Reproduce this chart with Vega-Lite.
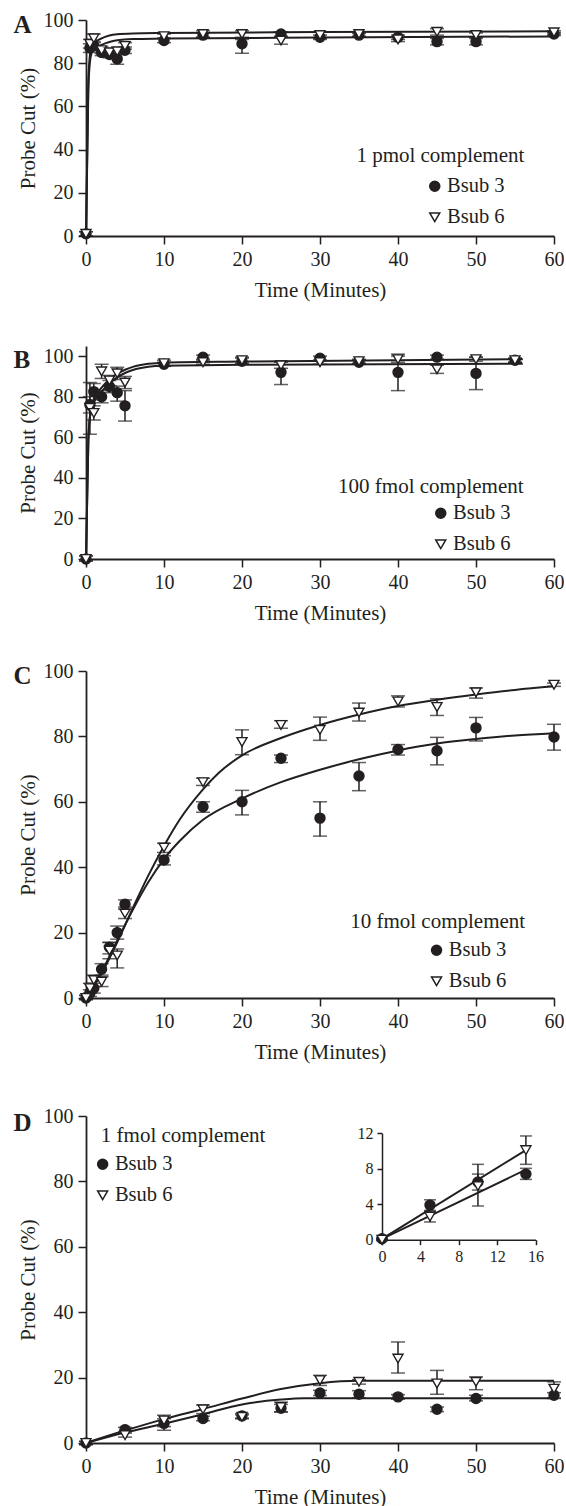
{
  "$schema": "https://vega.github.io/schema/vega-lite/v6.json",
  "padding": {"left": 13, "top": 10, "right": 0, "bottom": 0},
  "background": "white",
  "spacing": 38,
  "config": {
    "font": "Liberation Serif",
    "view": {"stroke": null},
    "axis": {"grid": false, "domainColor": "#231f20", "domainWidth": 1.8, "tickColor": "#231f20", "tickWidth": 1.5, "tickSize": 8, "labelFont": "Liberation Serif", "labelFontSize": 20, "labelColor": "#231f20", "labelFlush": false, "labelOverlap": false, "titleFont": "Liberation Serif", "titleFontSize": 21, "titleFontWeight": "normal", "titleColor": "#231f20"},
    "axisX": {"titlePadding": 10, "labelPadding": 5},
    "axisY": {"titlePadding": 5, "labelPadding": 5},
    "legend": {"labelFont": "Liberation Serif", "labelFontSize": 20.5, "labelColor": "#231f20", "symbolSize": 100, "labelOffset": 2, "rowPadding": 10, "padding": 0}
  },
  "datasets": {
    "A_pts": [
      {"s": "Bsub 3", "t": 0, "v": 1, "lo": 0, "hi": 2},
      {"s": "Bsub 3", "t": 0.5, "v": 87, "lo": 85, "hi": 89},
      {"s": "Bsub 3", "t": 1, "v": 88, "lo": 86, "hi": 90},
      {"s": "Bsub 3", "t": 2, "v": 85, "lo": 83.5, "hi": 86.5},
      {"s": "Bsub 3", "t": 3, "v": 84, "lo": 82.5, "hi": 85.5},
      {"s": "Bsub 3", "t": 4, "v": 82, "lo": 79.5, "hi": 84.5},
      {"s": "Bsub 3", "t": 5, "v": 86, "lo": 84.5, "hi": 87.5},
      {"s": "Bsub 3", "t": 10, "v": 90.5, "lo": 89.5, "hi": 91.5},
      {"s": "Bsub 3", "t": 15, "v": 93, "lo": 92, "hi": 94},
      {"s": "Bsub 3", "t": 20, "v": 89, "lo": 84.6, "hi": 91},
      {"s": "Bsub 3", "t": 25, "v": 93.5, "lo": 92.5, "hi": 94.5},
      {"s": "Bsub 3", "t": 30, "v": 92, "lo": 91, "hi": 93},
      {"s": "Bsub 3", "t": 35, "v": 93, "lo": 92.2, "hi": 93.8},
      {"s": "Bsub 3", "t": 40, "v": 92, "lo": 91, "hi": 93},
      {"s": "Bsub 3", "t": 45, "v": 90, "lo": 88.5, "hi": 91.5},
      {"s": "Bsub 3", "t": 50, "v": 90, "lo": 88.5, "hi": 91.5},
      {"s": "Bsub 3", "t": 60, "v": 93.5, "lo": 92.8, "hi": 94.2},
      {"s": "Bsub 6", "t": 0, "v": 1, "lo": 0, "hi": 2},
      {"s": "Bsub 6", "t": 0.5, "v": 89, "lo": 87, "hi": 91},
      {"s": "Bsub 6", "t": 1, "v": 91.5, "lo": 89.5, "hi": 93.5},
      {"s": "Bsub 6", "t": 2, "v": 86, "lo": 84.5, "hi": 87.5},
      {"s": "Bsub 6", "t": 3, "v": 85, "lo": 83.5, "hi": 86.5},
      {"s": "Bsub 6", "t": 4, "v": 85.5, "lo": 84, "hi": 87},
      {"s": "Bsub 6", "t": 5, "v": 88, "lo": 86.5, "hi": 89.5},
      {"s": "Bsub 6", "t": 10, "v": 92.5, "lo": 91.5, "hi": 93.5},
      {"s": "Bsub 6", "t": 15, "v": 93.5, "lo": 92, "hi": 95},
      {"s": "Bsub 6", "t": 20, "v": 93.5, "lo": 92, "hi": 95},
      {"s": "Bsub 6", "t": 25, "v": 90.5, "lo": 88.8, "hi": 92},
      {"s": "Bsub 6", "t": 30, "v": 93, "lo": 91.5, "hi": 94.5},
      {"s": "Bsub 6", "t": 35, "v": 93.5, "lo": 92.5, "hi": 94.5},
      {"s": "Bsub 6", "t": 40, "v": 91, "lo": 90, "hi": 92},
      {"s": "Bsub 6", "t": 45, "v": 94.5, "lo": 93, "hi": 96},
      {"s": "Bsub 6", "t": 50, "v": 93, "lo": 92, "hi": 94},
      {"s": "Bsub 6", "t": 60, "v": 94.3, "lo": 93.5, "hi": 95}
    ],
    "A_fit": [
      {"s": "Bsub 3", "t": 0, "v": 0}, {"s": "Bsub 3", "t": 0.3, "v": 68}, {"s": "Bsub 3", "t": 0.6, "v": 83}, {"s": "Bsub 3", "t": 1, "v": 86.5}, {"s": "Bsub 3", "t": 2, "v": 88.5}, {"s": "Bsub 3", "t": 3, "v": 89.8}, {"s": "Bsub 3", "t": 4, "v": 90.6}, {"s": "Bsub 3", "t": 6, "v": 91.2}, {"s": "Bsub 3", "t": 10, "v": 91.4}, {"s": "Bsub 3", "t": 30, "v": 91.9}, {"s": "Bsub 3", "t": 60, "v": 92.4},
      {"s": "Bsub 6", "t": 0, "v": 0}, {"s": "Bsub 6", "t": 0.3, "v": 72}, {"s": "Bsub 6", "t": 0.6, "v": 86}, {"s": "Bsub 6", "t": 1, "v": 89}, {"s": "Bsub 6", "t": 2, "v": 91.5}, {"s": "Bsub 6", "t": 3, "v": 92.8}, {"s": "Bsub 6", "t": 4, "v": 93.4}, {"s": "Bsub 6", "t": 6, "v": 93.8}, {"s": "Bsub 6", "t": 10, "v": 94}, {"s": "Bsub 6", "t": 30, "v": 94.4}, {"s": "Bsub 6", "t": 60, "v": 94.8}
    ],
    "B_pts": [
      {"s": "Bsub 3", "t": 0, "v": 0, "lo": -1, "hi": 1.5},
      {"s": "Bsub 3", "t": 0.5, "v": 76, "lo": 72, "hi": 80},
      {"s": "Bsub 3", "t": 1, "v": 82.5, "lo": 78.5, "hi": 86.5},
      {"s": "Bsub 3", "t": 2, "v": 80, "lo": 77, "hi": 83},
      {"s": "Bsub 3", "t": 3, "v": 85, "lo": 82, "hi": 88},
      {"s": "Bsub 3", "t": 4, "v": 82, "lo": 77.8, "hi": 85.2},
      {"s": "Bsub 3", "t": 5, "v": 75.5, "lo": 68, "hi": 83},
      {"s": "Bsub 3", "t": 10, "v": 96, "lo": 95, "hi": 97},
      {"s": "Bsub 3", "t": 15, "v": 99.5, "lo": 98.5, "hi": 100.5},
      {"s": "Bsub 3", "t": 20, "v": 97.5, "lo": 96, "hi": 99},
      {"s": "Bsub 3", "t": 25, "v": 92, "lo": 86, "hi": 97.5},
      {"s": "Bsub 3", "t": 30, "v": 99, "lo": 98, "hi": 100},
      {"s": "Bsub 3", "t": 35, "v": 97, "lo": 96, "hi": 98},
      {"s": "Bsub 3", "t": 40, "v": 92, "lo": 83, "hi": 101},
      {"s": "Bsub 3", "t": 45, "v": 99.5, "lo": 98.5, "hi": 100.5},
      {"s": "Bsub 3", "t": 50, "v": 91.5, "lo": 83.5, "hi": 99.5},
      {"s": "Bsub 3", "t": 55, "v": 98, "lo": 97, "hi": 99},
      {"s": "Bsub 6", "t": 0, "v": 0, "lo": -1, "hi": 1.5},
      {"s": "Bsub 6", "t": 0.5, "v": 74.5, "lo": 61.5, "hi": 87},
      {"s": "Bsub 6", "t": 1, "v": 72, "lo": 68.5, "hi": 75.5},
      {"s": "Bsub 6", "t": 2, "v": 92.5, "lo": 89, "hi": 96},
      {"s": "Bsub 6", "t": 3, "v": 88, "lo": 85.5, "hi": 90.5},
      {"s": "Bsub 6", "t": 4, "v": 91.5, "lo": 88.5, "hi": 94.5},
      {"s": "Bsub 6", "t": 5, "v": 87, "lo": 84, "hi": 90},
      {"s": "Bsub 6", "t": 10, "v": 96.5, "lo": 95, "hi": 98},
      {"s": "Bsub 6", "t": 15, "v": 97, "lo": 96, "hi": 98},
      {"s": "Bsub 6", "t": 20, "v": 98, "lo": 96.5, "hi": 99.5},
      {"s": "Bsub 6", "t": 25, "v": 95.5, "lo": 94, "hi": 97},
      {"s": "Bsub 6", "t": 30, "v": 97, "lo": 96, "hi": 98},
      {"s": "Bsub 6", "t": 35, "v": 97.5, "lo": 96.5, "hi": 98.5},
      {"s": "Bsub 6", "t": 40, "v": 98.5, "lo": 97, "hi": 100},
      {"s": "Bsub 6", "t": 45, "v": 93.5, "lo": 91.5, "hi": 95.5},
      {"s": "Bsub 6", "t": 50, "v": 98.5, "lo": 97.5, "hi": 99.5},
      {"s": "Bsub 6", "t": 55, "v": 98, "lo": 97, "hi": 99}
    ],
    "B_fit": [
      {"s": "Bsub 3", "t": 0, "v": 0}, {"s": "Bsub 3", "t": 0.3, "v": 58}, {"s": "Bsub 3", "t": 0.5, "v": 70}, {"s": "Bsub 3", "t": 1, "v": 77}, {"s": "Bsub 3", "t": 2, "v": 82.5}, {"s": "Bsub 3", "t": 3, "v": 86.5}, {"s": "Bsub 3", "t": 4, "v": 89.5}, {"s": "Bsub 3", "t": 5, "v": 91.7}, {"s": "Bsub 3", "t": 6, "v": 93.2}, {"s": "Bsub 3", "t": 8, "v": 94.8}, {"s": "Bsub 3", "t": 10, "v": 95.3}, {"s": "Bsub 3", "t": 20, "v": 95.7}, {"s": "Bsub 3", "t": 56, "v": 96.3},
      {"s": "Bsub 6", "t": 0, "v": 0}, {"s": "Bsub 6", "t": 0.3, "v": 58}, {"s": "Bsub 6", "t": 0.5, "v": 70}, {"s": "Bsub 6", "t": 1, "v": 78}, {"s": "Bsub 6", "t": 2, "v": 84.5}, {"s": "Bsub 6", "t": 3, "v": 88.5}, {"s": "Bsub 6", "t": 4, "v": 91.3}, {"s": "Bsub 6", "t": 5, "v": 93.3}, {"s": "Bsub 6", "t": 6, "v": 94.7}, {"s": "Bsub 6", "t": 8, "v": 96.2}, {"s": "Bsub 6", "t": 10, "v": 96.8}, {"s": "Bsub 6", "t": 20, "v": 97.3}, {"s": "Bsub 6", "t": 56, "v": 98.5}
    ],
    "C_pts": [
      {"s": "Bsub 3", "t": 0, "v": 0, "lo": -0.5, "hi": 0.8},
      {"s": "Bsub 3", "t": 0.5, "v": 1.5, "lo": 0.5, "hi": 2.5},
      {"s": "Bsub 3", "t": 1, "v": 3, "lo": 1.5, "hi": 4.5},
      {"s": "Bsub 3", "t": 2, "v": 8.8, "lo": 7, "hi": 10.5},
      {"s": "Bsub 3", "t": 3, "v": 15.5, "lo": 13.5, "hi": 17},
      {"s": "Bsub 3", "t": 4, "v": 20, "lo": 18, "hi": 22},
      {"s": "Bsub 3", "t": 5, "v": 28.7, "lo": 27.2, "hi": 30},
      {"s": "Bsub 3", "t": 10, "v": 42.2, "lo": 40.7, "hi": 43.5},
      {"s": "Bsub 3", "t": 15, "v": 58.5, "lo": 56.8, "hi": 60},
      {"s": "Bsub 3", "t": 20, "v": 60, "lo": 56, "hi": 63.5},
      {"s": "Bsub 3", "t": 25, "v": 73.3, "lo": 72, "hi": 74.3},
      {"s": "Bsub 3", "t": 30, "v": 55, "lo": 49.5, "hi": 60},
      {"s": "Bsub 3", "t": 35, "v": 67.9, "lo": 63.4, "hi": 72},
      {"s": "Bsub 3", "t": 40, "v": 76, "lo": 74.3, "hi": 77.5},
      {"s": "Bsub 3", "t": 45, "v": 75.6, "lo": 71.3, "hi": 79.7},
      {"s": "Bsub 3", "t": 50, "v": 82.6, "lo": 78.6, "hi": 85.8},
      {"s": "Bsub 3", "t": 60, "v": 79.8, "lo": 75.8, "hi": 83.7},
      {"s": "Bsub 6", "t": 0, "v": 0, "lo": -0.5, "hi": 0.8},
      {"s": "Bsub 6", "t": 0.5, "v": 3, "lo": 1.5, "hi": 4.5},
      {"s": "Bsub 6", "t": 1, "v": 5.5, "lo": 3.5, "hi": 7},
      {"s": "Bsub 6", "t": 2, "v": 5, "lo": 3.5, "hi": 6.5},
      {"s": "Bsub 6", "t": 3, "v": 14.5, "lo": 12, "hi": 17},
      {"s": "Bsub 6", "t": 4, "v": 13, "lo": 9.2, "hi": 15},
      {"s": "Bsub 6", "t": 5, "v": 25.8, "lo": 24.3, "hi": 27.8},
      {"s": "Bsub 6", "t": 10, "v": 46, "lo": 44.5, "hi": 47.3},
      {"s": "Bsub 6", "t": 15, "v": 66, "lo": 65, "hi": 67.2},
      {"s": "Bsub 6", "t": 20, "v": 78.3, "lo": 74.4, "hi": 82},
      {"s": "Bsub 6", "t": 25, "v": 83.5, "lo": 82.5, "hi": 84.8},
      {"s": "Bsub 6", "t": 30, "v": 82, "lo": 78.8, "hi": 85.9},
      {"s": "Bsub 6", "t": 35, "v": 87.3, "lo": 84.7, "hi": 90.2},
      {"s": "Bsub 6", "t": 40, "v": 90.7, "lo": 89, "hi": 92.4},
      {"s": "Bsub 6", "t": 45, "v": 89, "lo": 86.4, "hi": 91.5},
      {"s": "Bsub 6", "t": 50, "v": 93.5, "lo": 91.7, "hi": 94.8},
      {"s": "Bsub 6", "t": 60, "v": 95.8, "lo": 95.3, "hi": 96.3}
    ],
    "C_fit": [
      {"s": "Bsub 3", "t": 0, "v": 0}, {"s": "Bsub 3", "t": 2, "v": 8}, {"s": "Bsub 3", "t": 4, "v": 17.5}, {"s": "Bsub 3", "t": 6, "v": 27}, {"s": "Bsub 3", "t": 8, "v": 35.5}, {"s": "Bsub 3", "t": 10, "v": 42.5}, {"s": "Bsub 3", "t": 12, "v": 48}, {"s": "Bsub 3", "t": 15, "v": 54.5}, {"s": "Bsub 3", "t": 20, "v": 61}, {"s": "Bsub 3", "t": 25, "v": 66}, {"s": "Bsub 3", "t": 30, "v": 69.8}, {"s": "Bsub 3", "t": 35, "v": 73}, {"s": "Bsub 3", "t": 40, "v": 75.7}, {"s": "Bsub 3", "t": 45, "v": 77.8}, {"s": "Bsub 3", "t": 50, "v": 79.2}, {"s": "Bsub 3", "t": 55, "v": 80.3}, {"s": "Bsub 3", "t": 60, "v": 81},
      {"s": "Bsub 6", "t": 0, "v": 0}, {"s": "Bsub 6", "t": 2, "v": 7.5}, {"s": "Bsub 6", "t": 4, "v": 17}, {"s": "Bsub 6", "t": 6, "v": 27.5}, {"s": "Bsub 6", "t": 8, "v": 37.5}, {"s": "Bsub 6", "t": 10, "v": 46.5}, {"s": "Bsub 6", "t": 12, "v": 54.5}, {"s": "Bsub 6", "t": 15, "v": 63.8}, {"s": "Bsub 6", "t": 17, "v": 68.8}, {"s": "Bsub 6", "t": 20, "v": 74.2}, {"s": "Bsub 6", "t": 25, "v": 79.5}, {"s": "Bsub 6", "t": 30, "v": 83.5}, {"s": "Bsub 6", "t": 35, "v": 86.7}, {"s": "Bsub 6", "t": 40, "v": 89.3}, {"s": "Bsub 6", "t": 45, "v": 91.2}, {"s": "Bsub 6", "t": 50, "v": 92.8}, {"s": "Bsub 6", "t": 55, "v": 94.2}, {"s": "Bsub 6", "t": 60, "v": 95.3}
    ],
    "D_pts": [
      {"s": "Bsub 3", "t": 0, "v": 0, "lo": -0.5, "hi": 0.5},
      {"s": "Bsub 3", "t": 5, "v": 4.1, "lo": 3.4, "hi": 4.8},
      {"s": "Bsub 3", "t": 10, "v": 6, "lo": 5, "hi": 7.4},
      {"s": "Bsub 3", "t": 15, "v": 7.5, "lo": 6.8, "hi": 8.2},
      {"s": "Bsub 3", "t": 20, "v": 8.3, "lo": 7.6, "hi": 9},
      {"s": "Bsub 3", "t": 25, "v": 10.6, "lo": 9.5, "hi": 11.8},
      {"s": "Bsub 3", "t": 30, "v": 15.3, "lo": 14.5, "hi": 16.1},
      {"s": "Bsub 3", "t": 35, "v": 14.9, "lo": 13.8, "hi": 16},
      {"s": "Bsub 3", "t": 40, "v": 14.1, "lo": 13.4, "hi": 14.8},
      {"s": "Bsub 3", "t": 45, "v": 10.3, "lo": 9.6, "hi": 11},
      {"s": "Bsub 3", "t": 50, "v": 13.6, "lo": 12.9, "hi": 14.6},
      {"s": "Bsub 3", "t": 60, "v": 14.6, "lo": 13.8, "hi": 15.4},
      {"s": "Bsub 6", "t": 0, "v": 0, "lo": -0.5, "hi": 0.5},
      {"s": "Bsub 6", "t": 5, "v": 2.4, "lo": 1.8, "hi": 3},
      {"s": "Bsub 6", "t": 10, "v": 6.9, "lo": 3.9, "hi": 8.5},
      {"s": "Bsub 6", "t": 15, "v": 10.3, "lo": 9, "hi": 11.6},
      {"s": "Bsub 6", "t": 20, "v": 8, "lo": 7.4, "hi": 8.6},
      {"s": "Bsub 6", "t": 25, "v": 11, "lo": 9.5, "hi": 12.5},
      {"s": "Bsub 6", "t": 30, "v": 19.2, "lo": 17.6, "hi": 20.7},
      {"s": "Bsub 6", "t": 35, "v": 18.7, "lo": 18, "hi": 19.4},
      {"s": "Bsub 6", "t": 40, "v": 25.8, "lo": 21.4, "hi": 30.9},
      {"s": "Bsub 6", "t": 45, "v": 18.2, "lo": 14.9, "hi": 22.2},
      {"s": "Bsub 6", "t": 50, "v": 18.7, "lo": 16.3, "hi": 20.2},
      {"s": "Bsub 6", "t": 60, "v": 16.6, "lo": 13.6, "hi": 18.7}
    ],
    "D_fit": [
      {"s": "Bsub 3", "t": 0, "v": 0}, {"s": "Bsub 3", "t": 5, "v": 3.2}, {"s": "Bsub 3", "t": 10, "v": 5.9}, {"s": "Bsub 3", "t": 15, "v": 8.8}, {"s": "Bsub 3", "t": 20, "v": 11.8}, {"s": "Bsub 3", "t": 25, "v": 13.3}, {"s": "Bsub 3", "t": 28, "v": 13.7}, {"s": "Bsub 3", "t": 60, "v": 13.7},
      {"s": "Bsub 6", "t": 0, "v": 0}, {"s": "Bsub 6", "t": 5, "v": 3.8}, {"s": "Bsub 6", "t": 10, "v": 7.3}, {"s": "Bsub 6", "t": 15, "v": 10.4}, {"s": "Bsub 6", "t": 20, "v": 13.6}, {"s": "Bsub 6", "t": 25, "v": 16.5}, {"s": "Bsub 6", "t": 30, "v": 18.3}, {"s": "Bsub 6", "t": 35, "v": 19}, {"s": "Bsub 6", "t": 60, "v": 19}
    ],
    "I_pts": [
      {"s": "Bsub 3", "t": 0, "v": 0.1, "lo": 0, "hi": 0.2},
      {"s": "Bsub 3", "t": 5, "v": 3.9, "lo": 3.3, "hi": 4.5},
      {"s": "Bsub 3", "t": 10, "v": 6.5, "lo": 5.6, "hi": 7.4},
      {"s": "Bsub 3", "t": 15, "v": 7.4, "lo": 6.8, "hi": 8.05},
      {"s": "Bsub 6", "t": 0, "v": 0, "lo": -0.1, "hi": 0.1},
      {"s": "Bsub 6", "t": 5, "v": 2.6, "lo": 2, "hi": 3.2},
      {"s": "Bsub 6", "t": 10, "v": 6.05, "lo": 3.8, "hi": 8.5},
      {"s": "Bsub 6", "t": 15, "v": 10.1, "lo": 8.5, "hi": 11.7}
    ],
    "I_fit": [
      {"s": "Bsub 3", "t": 0, "v": 0.1}, {"s": "Bsub 3", "t": 15, "v": 7.9},
      {"s": "Bsub 6", "t": 0, "v": 0.1}, {"s": "Bsub 6", "t": 15, "v": 10.1}
    ]
  },
  "resolve": {
    "scale": {"x": "independent", "y": "independent", "shape": "independent", "fill": "independent"},
    "legend": {"shape": "independent", "fill": "independent"}
  },
  "vconcat": [
    {
      "spacing": 46,
      "resolve": {
        "scale": {"x": "independent", "y": "independent", "shape": "independent", "fill": "independent"},
        "legend": {"shape": "independent", "fill": "independent"}
      },
      "vconcat": [
        {
          "width": 468, "height": 216,
          "layer": [
            {"data": {"name": "A_pts"}, "mark": {"type": "errorbar", "ticks": {"size": 14, "thickness": 1.5, "color": "#231f20"}, "rule": {"strokeWidth": 1.5, "color": "#231f20"}},
             "encoding": {
               "x": {"field": "t", "type": "quantitative", "scale": {"domain": [0, 60], "nice": false}, "axis": {"values": [0, 10, 20, 30, 40, 50, 60], "title": "Time (Minutes)"}},
               "y": {"field": "lo", "type": "quantitative", "scale": {"domain": [0, 100], "nice": false}, "axis": {"values": [0, 20, 40, 60, 80, 100], "title": "Probe Cut (%)"}},
               "y2": {"field": "hi"}}},
            {"data": {"name": "A_fit"}, "mark": {"type": "line", "interpolate": "monotone", "color": "#231f20", "strokeWidth": 2},
             "encoding": {
               "x": {"field": "t", "type": "quantitative", "scale": {"domain": [0, 60], "nice": false}, "axis": {"values": [0, 10, 20, 30, 40, 50, 60], "title": "Time (Minutes)"}},
               "y": {"field": "v", "type": "quantitative", "scale": {"domain": [0, 100], "nice": false}, "axis": {"values": [0, 20, 40, 60, 80, 100], "title": "Probe Cut (%)"}},
               "detail": {"field": "s"}}},
            {"data": {"name": "A_pts"}, "mark": {"type": "point", "filled": true, "stroke": "#231f20", "strokeWidth": 1.4, "opacity": 1, "size": 100},
             "encoding": {
               "x": {"field": "t", "type": "quantitative", "scale": {"domain": [0, 60], "nice": false}, "axis": {"values": [0, 10, 20, 30, 40, 50, 60], "title": "Time (Minutes)"}},
               "y": {"field": "v", "type": "quantitative", "scale": {"domain": [0, 100], "nice": false}, "axis": {"values": [0, 20, 40, 60, 80, 100], "title": "Probe Cut (%)"}},
               "shape": {"field": "s", "type": "nominal", "scale": {"domain": ["Bsub 3", "Bsub 6"], "range": ["circle", "triangle-down"]}, "legend": {"title": null, "orient": "none", "legendX": 338.5, "legendY": 156, "encode": {"symbols": {"update": {"stroke": {"value": "#231f20"}, "strokeWidth": {"value": 1.4}}}}}},
               "fill": {"field": "s", "type": "nominal", "scale": {"domain": ["Bsub 3", "Bsub 6"], "range": ["#231f20", "#ffffff"]}, "legend": {"title": null, "orient": "none", "legendX": 338.5, "legendY": 156, "encode": {"symbols": {"update": {"stroke": {"value": "#231f20"}, "strokeWidth": {"value": 1.4}}}}}}}},
            {"data": {"values": [{"label": "1 pmol complement"}]}, "mark": {"type": "text", "align": "right", "baseline": "alphabetic", "fontSize": 21, "font": "Liberation Serif", "color": "#231f20"},
             "encoding": {"x": {"datum": 56.2, "type": "quantitative"}, "y": {"datum": 34.2, "type": "quantitative"}, "text": {"field": "label"}}},
            {"data": {"values": [{"label": "A"}]}, "mark": {"type": "text", "align": "left", "baseline": "middle", "fontSize": 25, "fontWeight": "bold", "font": "Liberation Serif", "color": "#231f20"},
             "encoding": {"x": {"datum": -9.3, "type": "quantitative"}, "y": {"datum": 97.5, "type": "quantitative"}, "text": {"field": "label"}}}
          ]
        },
        {
          "width": 468, "height": 213,
          "layer": [
            {"data": {"name": "B_pts"}, "mark": {"type": "errorbar", "ticks": {"size": 14, "thickness": 1.5, "color": "#231f20"}, "rule": {"strokeWidth": 1.5, "color": "#231f20"}},
             "encoding": {
               "x": {"field": "t", "type": "quantitative", "scale": {"domain": [0, 60], "nice": false}, "axis": {"values": [0, 10, 20, 30, 40, 50, 60], "title": "Time (Minutes)"}},
               "y": {"field": "lo", "type": "quantitative", "scale": {"domain": [0, 105], "nice": false}, "axis": {"values": [0, 20, 40, 60, 80, 100], "title": "Probe Cut (%)"}},
               "y2": {"field": "hi"}}},
            {"data": {"name": "B_fit"}, "mark": {"type": "line", "interpolate": "monotone", "color": "#231f20", "strokeWidth": 2},
             "encoding": {
               "x": {"field": "t", "type": "quantitative", "scale": {"domain": [0, 60], "nice": false}, "axis": {"values": [0, 10, 20, 30, 40, 50, 60], "title": "Time (Minutes)"}},
               "y": {"field": "v", "type": "quantitative", "scale": {"domain": [0, 105], "nice": false}, "axis": {"values": [0, 20, 40, 60, 80, 100], "title": "Probe Cut (%)"}},
               "detail": {"field": "s"}}},
            {"data": {"name": "B_pts"}, "mark": {"type": "point", "filled": true, "stroke": "#231f20", "strokeWidth": 1.4, "opacity": 1, "size": 100},
             "encoding": {
               "x": {"field": "t", "type": "quantitative", "scale": {"domain": [0, 60], "nice": false}, "axis": {"values": [0, 10, 20, 30, 40, 50, 60], "title": "Time (Minutes)"}},
               "y": {"field": "v", "type": "quantitative", "scale": {"domain": [0, 105], "nice": false}, "axis": {"values": [0, 20, 40, 60, 80, 100], "title": "Probe Cut (%)"}},
               "shape": {"field": "s", "type": "nominal", "scale": {"domain": ["Bsub 3", "Bsub 6"], "range": ["circle", "triangle-down"]}, "legend": {"title": null, "orient": "none", "legendX": 344.5, "legendY": 157, "encode": {"symbols": {"update": {"stroke": {"value": "#231f20"}, "strokeWidth": {"value": 1.4}}}}}},
               "fill": {"field": "s", "type": "nominal", "scale": {"domain": ["Bsub 3", "Bsub 6"], "range": ["#231f20", "#ffffff"]}, "legend": {"title": null, "orient": "none", "legendX": 344.5, "legendY": 157, "encode": {"symbols": {"update": {"stroke": {"value": "#231f20"}, "strokeWidth": {"value": 1.4}}}}}}}},
            {"data": {"values": [{"label": "100 fmol complement"}]}, "mark": {"type": "text", "align": "right", "baseline": "alphabetic", "fontSize": 21, "font": "Liberation Serif", "color": "#231f20"},
             "encoding": {"x": {"datum": 56.1, "type": "quantitative"}, "y": {"datum": 32.5, "type": "quantitative"}, "text": {"field": "label"}}},
            {"data": {"values": [{"label": "B"}]}, "mark": {"type": "text", "align": "left", "baseline": "middle", "fontSize": 25, "fontWeight": "bold", "font": "Liberation Serif", "color": "#231f20"},
             "encoding": {"x": {"datum": -9.3, "type": "quantitative"}, "y": {"datum": 98, "type": "quantitative"}, "text": {"field": "label"}}}
          ]
        }
      ]
    },
    {
      "spacing": 44,
      "resolve": {
        "scale": {"x": "independent", "y": "independent", "shape": "independent", "fill": "independent"},
        "legend": {"shape": "independent", "fill": "independent"}
      },
      "vconcat": [
        {
          "width": 468, "height": 327,
          "layer": [
            {"data": {"name": "C_pts"}, "mark": {"type": "errorbar", "ticks": {"size": 14, "thickness": 1.5, "color": "#231f20"}, "rule": {"strokeWidth": 1.5, "color": "#231f20"}},
             "encoding": {
               "x": {"field": "t", "type": "quantitative", "scale": {"domain": [0, 60], "nice": false}, "axis": {"values": [0, 10, 20, 30, 40, 50, 60], "title": "Time (Minutes)"}},
               "y": {"field": "lo", "type": "quantitative", "scale": {"domain": [0, 100], "nice": false}, "axis": {"values": [0, 20, 40, 60, 80, 100], "title": "Probe Cut (%)"}},
               "y2": {"field": "hi"}}},
            {"data": {"name": "C_fit"}, "mark": {"type": "line", "interpolate": "monotone", "color": "#231f20", "strokeWidth": 2},
             "encoding": {
               "x": {"field": "t", "type": "quantitative", "scale": {"domain": [0, 60], "nice": false}, "axis": {"values": [0, 10, 20, 30, 40, 50, 60], "title": "Time (Minutes)"}},
               "y": {"field": "v", "type": "quantitative", "scale": {"domain": [0, 100], "nice": false}, "axis": {"values": [0, 20, 40, 60, 80, 100], "title": "Probe Cut (%)"}},
               "detail": {"field": "s"}}},
            {"data": {"name": "C_pts"}, "mark": {"type": "point", "filled": true, "stroke": "#231f20", "strokeWidth": 1.4, "opacity": 1, "size": 100},
             "encoding": {
               "x": {"field": "t", "type": "quantitative", "scale": {"domain": [0, 60], "nice": false}, "axis": {"values": [0, 10, 20, 30, 40, 50, 60], "title": "Time (Minutes)"}},
               "y": {"field": "v", "type": "quantitative", "scale": {"domain": [0, 100], "nice": false}, "axis": {"values": [0, 20, 40, 60, 80, 100], "title": "Probe Cut (%)"}},
               "shape": {"field": "s", "type": "nominal", "scale": {"domain": ["Bsub 3", "Bsub 6"], "range": ["circle", "triangle-down"]}, "legend": {"title": null, "orient": "none", "legendX": 340.3, "legendY": 269, "encode": {"symbols": {"update": {"stroke": {"value": "#231f20"}, "strokeWidth": {"value": 1.4}}}}}},
               "fill": {"field": "s", "type": "nominal", "scale": {"domain": ["Bsub 3", "Bsub 6"], "range": ["#231f20", "#ffffff"]}, "legend": {"title": null, "orient": "none", "legendX": 340.3, "legendY": 269, "encode": {"symbols": {"update": {"stroke": {"value": "#231f20"}, "strokeWidth": {"value": 1.4}}}}}}}},
            {"data": {"values": [{"label": "10 fmol complement"}]}, "mark": {"type": "text", "align": "right", "baseline": "alphabetic", "fontSize": 21, "font": "Liberation Serif", "color": "#231f20"},
             "encoding": {"x": {"datum": 56.3, "type": "quantitative"}, "y": {"datum": 21.5, "type": "quantitative"}, "text": {"field": "label"}}},
            {"data": {"values": [{"label": "C"}]}, "mark": {"type": "text", "align": "left", "baseline": "middle", "fontSize": 25, "fontWeight": "bold", "font": "Liberation Serif", "color": "#231f20"},
             "encoding": {"x": {"datum": -9.3, "type": "quantitative"}, "y": {"datum": 98.6, "type": "quantitative"}, "text": {"field": "label"}}}
          ]
        },
        {
          "width": 468, "height": 327,
          "resolve": {"scale": {"x": "independent", "y": "independent"}, "axis": {"x": "independent", "y": "independent"}},
          "layer": [
            {
              "layer": [
                {"data": {"name": "D_pts"}, "mark": {"type": "errorbar", "ticks": {"size": 14, "thickness": 1.5, "color": "#231f20"}, "rule": {"strokeWidth": 1.5, "color": "#231f20"}},
                 "encoding": {
                   "x": {"field": "t", "type": "quantitative", "scale": {"domain": [0, 60], "nice": false}, "axis": {"values": [0, 10, 20, 30, 40, 50, 60], "title": "Time (Minutes)"}},
                   "y": {"field": "lo", "type": "quantitative", "scale": {"domain": [0, 100], "nice": false}, "axis": {"values": [0, 20, 40, 60, 80, 100], "title": "Probe Cut (%)"}},
                   "y2": {"field": "hi"}}},
                {"data": {"name": "D_fit"}, "mark": {"type": "line", "interpolate": "monotone", "color": "#231f20", "strokeWidth": 2},
                 "encoding": {
                   "x": {"field": "t", "type": "quantitative", "scale": {"domain": [0, 60], "nice": false}, "axis": {"values": [0, 10, 20, 30, 40, 50, 60], "title": "Time (Minutes)"}},
                   "y": {"field": "v", "type": "quantitative", "scale": {"domain": [0, 100], "nice": false}, "axis": {"values": [0, 20, 40, 60, 80, 100], "title": "Probe Cut (%)"}},
                   "detail": {"field": "s"}}},
                {"data": {"name": "D_pts"}, "mark": {"type": "point", "filled": true, "stroke": "#231f20", "strokeWidth": 1.4, "opacity": 1, "size": 100},
                 "encoding": {
                   "x": {"field": "t", "type": "quantitative", "scale": {"domain": [0, 60], "nice": false}, "axis": {"values": [0, 10, 20, 30, 40, 50, 60], "title": "Time (Minutes)"}},
                   "y": {"field": "v", "type": "quantitative", "scale": {"domain": [0, 100], "nice": false}, "axis": {"values": [0, 20, 40, 60, 80, 100], "title": "Probe Cut (%)"}},
                   "shape": {"field": "s", "type": "nominal", "scale": {"domain": ["Bsub 3", "Bsub 6"], "range": ["circle", "triangle-down"]}, "legend": {"title": null, "orient": "none", "legendX": 6.4, "legendY": 38, "encode": {"symbols": {"update": {"stroke": {"value": "#231f20"}, "strokeWidth": {"value": 1.4}}}}}},
                   "fill": {"field": "s", "type": "nominal", "scale": {"domain": ["Bsub 3", "Bsub 6"], "range": ["#231f20", "#ffffff"]}, "legend": {"title": null, "orient": "none", "legendX": 6.4, "legendY": 38, "encode": {"symbols": {"update": {"stroke": {"value": "#231f20"}, "strokeWidth": {"value": 1.4}}}}}}}},
                {"data": {"values": [{"label": "1 fmol complement"}]}, "mark": {"type": "text", "align": "left", "baseline": "alphabetic", "fontSize": 21, "font": "Liberation Serif", "color": "#231f20"},
                 "encoding": {"x": {"datum": 1.9, "type": "quantitative"}, "y": {"datum": 92, "type": "quantitative"}, "text": {"field": "label"}}},
                {"data": {"values": [{"label": "D"}]}, "mark": {"type": "text", "align": "left", "baseline": "middle", "fontSize": 25, "fontWeight": "bold", "font": "Liberation Serif", "color": "#231f20"},
                 "encoding": {"x": {"datum": -9.3, "type": "quantitative"}, "y": {"datum": 98, "type": "quantitative"}, "text": {"field": "label"}}}
              ]
            },
            {
              "layer": [
                {"data": {"name": "I_pts"}, "mark": {"type": "errorbar", "ticks": {"size": 12, "thickness": 1.5, "color": "#231f20"}, "rule": {"strokeWidth": 1.5, "color": "#231f20"}},
                 "encoding": {
                   "x": {"field": "t", "type": "quantitative", "scale": {"domain": [0, 16], "range": [296, 449.5], "nice": false, "zero": false}, "axis": {"orient": "bottom", "offset": -203.3, "values": [0, 4, 8, 12, 16], "title": null, "labelFontSize": 16, "tickSize": 5, "labelPadding": 4, "domainWidth": 1.5}},
                   "y": {"field": "lo", "type": "quantitative", "scale": {"domain": [0, 12], "range": [123.7, 17.3], "nice": false, "zero": false}, "axis": {"orient": "left", "offset": -296, "values": [0, 4, 8, 12], "title": null, "labelFontSize": 16, "tickSize": 5, "labelPadding": 4, "domainWidth": 1.5}},
                   "y2": {"field": "hi"}}},
                {"data": {"name": "I_fit"}, "mark": {"type": "line", "color": "#231f20", "strokeWidth": 2},
                 "encoding": {
                   "x": {"field": "t", "type": "quantitative", "scale": {"domain": [0, 16], "range": [296, 449.5], "nice": false, "zero": false}, "axis": {"orient": "bottom", "offset": -203.3, "values": [0, 4, 8, 12, 16], "title": null, "labelFontSize": 16, "tickSize": 5, "labelPadding": 4, "domainWidth": 1.5}},
                   "y": {"field": "v", "type": "quantitative", "scale": {"domain": [0, 12], "range": [123.7, 17.3], "nice": false, "zero": false}, "axis": {"orient": "left", "offset": -296, "values": [0, 4, 8, 12], "title": null, "labelFontSize": 16, "tickSize": 5, "labelPadding": 4, "domainWidth": 1.5}},
                   "detail": {"field": "s"}}},
                {"data": {"name": "I_pts"}, "mark": {"type": "point", "filled": true, "stroke": "#231f20", "strokeWidth": 1.4, "opacity": 1, "size": 100},
                 "encoding": {
                   "x": {"field": "t", "type": "quantitative", "scale": {"domain": [0, 16], "range": [296, 449.5], "nice": false, "zero": false}, "axis": {"orient": "bottom", "offset": -203.3, "values": [0, 4, 8, 12, 16], "title": null, "labelFontSize": 16, "tickSize": 5, "labelPadding": 4, "domainWidth": 1.5}},
                   "y": {"field": "v", "type": "quantitative", "scale": {"domain": [0, 12], "range": [123.7, 17.3], "nice": false, "zero": false}, "axis": {"orient": "left", "offset": -296, "values": [0, 4, 8, 12], "title": null, "labelFontSize": 16, "tickSize": 5, "labelPadding": 4, "domainWidth": 1.5}},
                   "shape": {"field": "s", "type": "nominal", "scale": {"domain": ["Bsub 3", "Bsub 6"], "range": ["circle", "triangle-down"]}, "legend": {"title": null, "orient": "none", "legendX": 6.4, "legendY": 38, "encode": {"symbols": {"update": {"stroke": {"value": "#231f20"}, "strokeWidth": {"value": 1.4}}}}}},
                   "fill": {"field": "s", "type": "nominal", "scale": {"domain": ["Bsub 3", "Bsub 6"], "range": ["#231f20", "#ffffff"]}, "legend": {"title": null, "orient": "none", "legendX": 6.4, "legendY": 38, "encode": {"symbols": {"update": {"stroke": {"value": "#231f20"}, "strokeWidth": {"value": 1.4}}}}}}}}
              ]
            }
          ]
        }
      ]
    }
  ]
}
